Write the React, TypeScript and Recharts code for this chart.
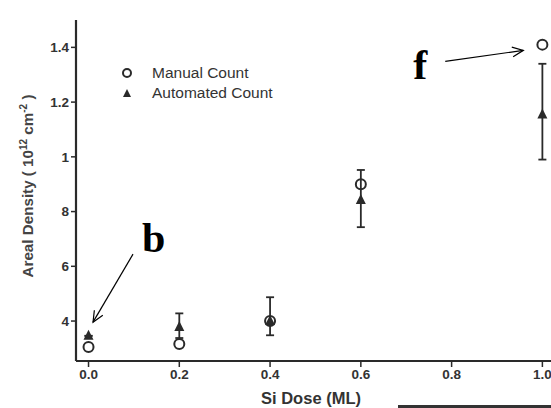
import React from 'react';
import {
  ScatterChart,
  Scatter,
  XAxis,
  YAxis,
  ErrorBar,
  ReferenceLine,
  ReferenceDot
} from 'recharts';

// Si dose (ML)
const doses = [0.0, 0.2, 0.4, 0.6, 1.0];
// areal density (tick "1" = 10, "1.2" = 12 ...)
const manualCount = [3.05, 3.16, 4.0, 9.0, 14.1];
const automatedCount = [3.46, 3.78, 4.0, 8.42, 11.55];
const automatedErrLow = [0, 0.4, 0.52, 0.99, 1.65];
const automatedErrHigh = [0, 0.5, 0.87, 1.1, 1.85];

const xTicks = [0, 0.2, 0.4, 0.6, 0.8, 1.0];
const yTicks = [4, 6, 8, 10, 12, 14];
const yTickLabels = ['4', '6', '8', '1', '1.2', '1.4'];

const INK = '#2a2a2a';
const FONT = 'Arial, Liberation Sans';

const manualData = doses.map((x, i) => ({ x, y: manualCount[i] }));
const autoData = doses.map((x, i) => ({
  x,
  y: automatedCount[i],
  err: [automatedErrLow[i], automatedErrHigh[i]]
}));

const OpenCircle = (props: any) => (
  <circle cx={props.cx} cy={props.cy} r={5} fill="none" stroke={INK} strokeWidth={2} />
);

const Triangle = (props: any) => {
  const { cx, cy } = props;
  return <path d={`M${cx},${cy - 6} L${cx + 5},${cy + 4} L${cx - 5},${cy + 4} Z`} fill={INK} />;
};

const Arrow = (props: any) => {
  const { x1, y1, x2, y2 } = props;
  const a = Math.atan2(y2 - y1, x2 - x1);
  const l = 12;
  const s = 0.42;
  const p1 = [x2 - l * Math.cos(a - s), y2 - l * Math.sin(a - s)];
  const p2 = [x2 - l * Math.cos(a + s), y2 - l * Math.sin(a + s)];
  return (
    <g stroke="#000" strokeWidth={1.2} fill="none">
      <line x1={x1} y1={y1} x2={x2} y2={y2} />
      <path d={`M${p1[0]},${p1[1]} L${x2},${y2} L${p2[0]},${p2[1]}`} />
    </g>
  );
};

const letter = (ch: string) => (props: any) => (
  <text
    x={props.cx}
    y={props.cy}
    fontFamily="Liberation Serif"
    fontWeight="bold"
    fontSize={42}
    fill="#000"
  >
    {ch}
  </text>
);

const LegendBox = () => (
  <div
    style={{
      position: 'absolute',
      left: 118,
      top: 63,
      fontFamily: FONT,
      fontSize: 15.5,
      color: '#333',
      lineHeight: '20px'
    }}
  >
    <div style={{ display: 'flex', alignItems: 'center' }}>
      <svg width={34} height={20}>
        <circle cx={9} cy={10} r={4} fill="none" stroke={INK} strokeWidth={2} />
      </svg>
      <span>Manual Count</span>
    </div>
    <div style={{ display: 'flex', alignItems: 'center' }}>
      <svg width={34} height={20}>
        <path d="M9,6 L13,14 L5,14 Z" fill={INK} />
      </svg>
      <span>Automated Count</span>
    </div>
  </div>
);

const YLabel = () => (
  <text
    transform="translate(33,186) rotate(-90)"
    textAnchor="middle"
    fontFamily={FONT}
    fontWeight="bold"
    fontSize={15.2}
    fill="#444"
  >
    Areal Density ( 10
    <tspan dy={-6} fontSize={10}>12</tspan>
    <tspan dy={6}> cm</tspan>
    <tspan dy={-6} fontSize={10}>-2</tspan>
    <tspan dy={6}> )</tspan>
  </text>
);

const tickStyle = { fill: '#333', fontSize: 13.5, fontWeight: 'bold', fontFamily: FONT };

export default function App() {
  return (
    <div style={{ position: 'absolute', left: 0, top: 0, width: 551, height: 408, overflow: 'hidden', background: '#fff' }}>
      <ScatterChart width={556} height={408} margin={{ top: 20, right: 0, bottom: 0, left: 0 }}>
        <XAxis
          type="number"
          dataKey="x"
          domain={[-0.0276, 1.03]}
          ticks={xTicks}
          tickFormatter={(v: number) => v.toFixed(1)}
          height={47}
          axisLine={{ stroke: INK, strokeWidth: 2.2 }}
          tickLine={{ stroke: INK, strokeWidth: 1.5 }}
          tickSize={6}
          tick={tickStyle}
          label={{
            value: 'Si Dose (ML)',
            position: 'insideBottom',
            offset: 4,
            dx: -5,
            style: { fill: '#333', fontSize: 16.5, fontWeight: 'bold', fontFamily: FONT }
          }}
        />
        <XAxis xAxisId="top" type="number" dataKey="x" orientation="top" domain={[-0.0276, 1.03]} height={0} tick={false} tickLine={false} axisLine={{ stroke: INK, strokeWidth: 2.2 }} />
        <YAxis
          type="number"
          dataKey="y"
          domain={[2.54, 15.0]}
          ticks={yTicks}
          tickFormatter={(v: number) => yTickLabels[yTicks.indexOf(v)]}
          width={76}
          axisLine={{ stroke: INK, strokeWidth: 2.2 }}
          tickLine={{ stroke: INK, strokeWidth: 1.5 }}
          tickSize={5}
          tick={tickStyle}
          label={<YLabel />}
        />
        <Scatter name="Automated Count" data={autoData} shape={<Triangle />} isAnimationActive={false}>
          <ErrorBar dataKey="err" direction="y" width={4} stroke={INK} strokeWidth={1.8} isAnimationActive={false} />
        </Scatter>
        <Scatter name="Manual Count" data={manualData} shape={<OpenCircle />} isAnimationActive={false} />
        <ReferenceLine
          segment={[{ x: 0.098, y: 6.445 }, { x: 0.0099, y: 3.96 }]}
          shape={<Arrow />}
          ifOverflow="visible"
        />
        <ReferenceLine
          segment={[{ x: 0.786, y: 13.49 }, { x: 0.958, y: 13.89 }]}
          shape={<Arrow />}
          ifOverflow="visible"
        />
        <ReferenceDot x={0.118} y={6.52} shape={letter('b')} ifOverflow="visible" />
        <ReferenceDot x={0.7155} y={12.83} shape={letter('f')} ifOverflow="visible" />
      </ScatterChart>
      <LegendBox />
      <div style={{ position: 'absolute', left: 398, top: 405, width: 160, height: 3, background: '#333' }} />
    </div>
  );
}
